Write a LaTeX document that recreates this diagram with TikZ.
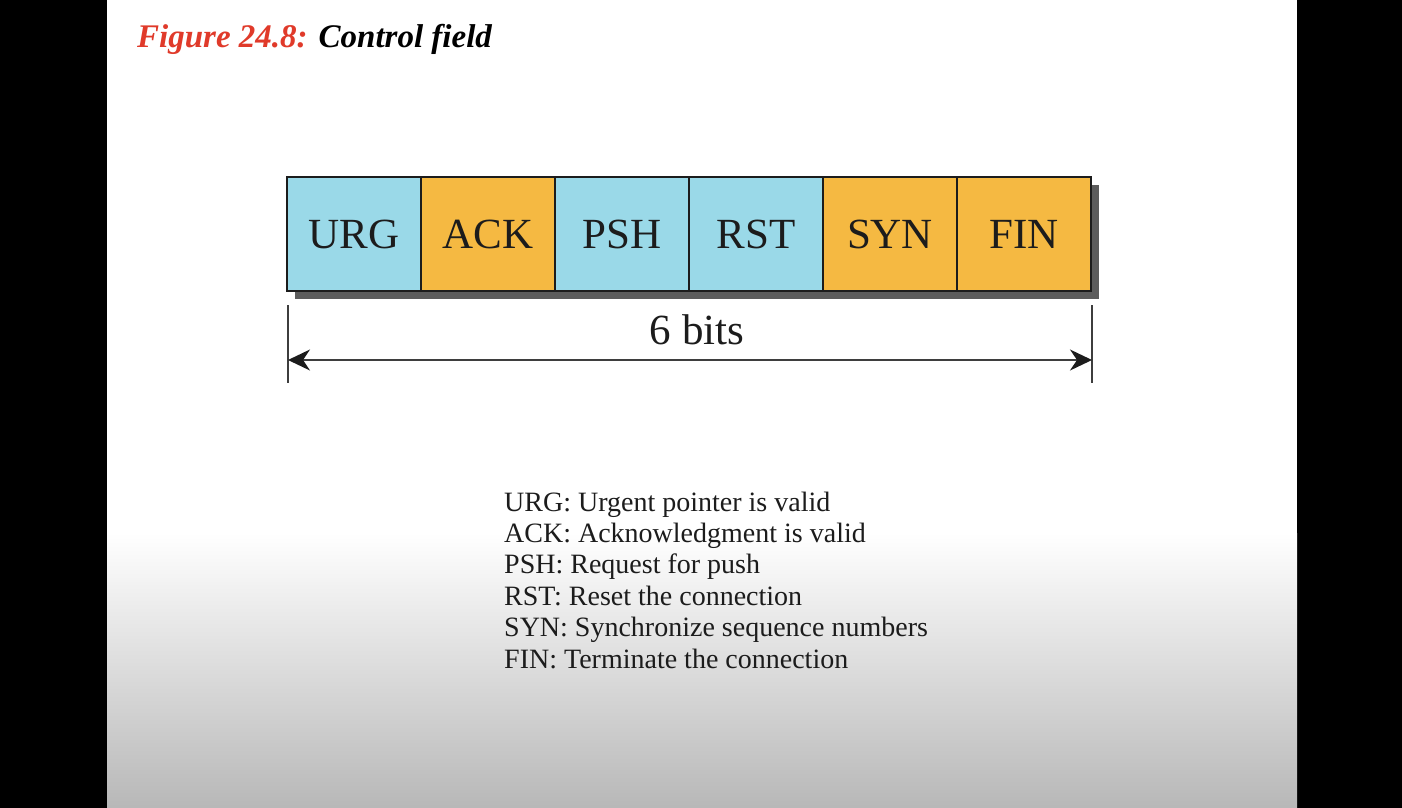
\documentclass[tikz,border=0pt]{standalone}
\usepackage{fontspec}
\setmainfont{Liberation Serif}
\usetikzlibrary{positioning}
\usetikzlibrary{arrows.meta}
\usetikzlibrary{backgrounds}
\definecolor{flagcyan}{HTML}{9AD9E8}
\definecolor{flagorange}{HTML}{F5B942}
\definecolor{shadowgray}{HTML}{5C5C5C}
\definecolor{titlered}{HTML}{E03A2A}
\definecolor{ink}{HTML}{1C1C1C}

\begin{document}
\begin{tikzpicture}[
  x=1pt, y=-1pt,
  cell/.style = {draw=ink, line width=1.6pt, minimum width=134pt,
    minimum height=114pt, inner sep=0pt, outer sep=0pt, text=ink,
    font=\fontsize{43}{43}\selectfont},
  cyancell/.style = {cell, fill=flagcyan},
  orangecell/.style = {cell, fill=flagorange},
  tick/.style = {line width=1.4pt, color=ink!85},
  legend/.style = {anchor=base west, inner sep=0pt, text=ink,
    font=\fontsize{28}{28}\selectfont},
  >={Stealth[length=22pt, width=21pt, inset=7pt, color=ink]},
]

  \useasboundingbox (0,0) rectangle (1402,808);

  % the row of flags
  \node[cyancell, anchor=north west] (urg) at (287,177) {URG};
  \node[orangecell, right=0pt of urg] (ack) {ACK};
  \node[cyancell, right=0pt of ack] (psh) {PSH};
  \node[cyancell, right=0pt of psh] (rst) {RST};
  \node[orangecell, right=0pt of rst] (syn) {SYN};
  \node[orangecell, right=0pt of syn] (fin) {FIN};

  % size of the field
  \coordinate (ltop) at ([shift={(1,14)}]urg.south west);
  \coordinate (lbot) at ([shift={(1,92)}]urg.south west);
  \coordinate (rtop) at ([shift={(1,14)}]fin.south east);
  \coordinate (rbot) at ([shift={(1,92)}]fin.south east);
  \coordinate (larr) at ([shift={(1,69)}]urg.south west);
  \coordinate (rarr) at ([shift={(1,69)}]fin.south east);

  \draw[tick] (ltop) -- (lbot);
  \draw[tick] (rtop) -- (rbot);
  \draw[tick,<->] (larr) -- (rarr) node[midway, above=14pt, xshift=7pt, text=ink,
    font=\fontsize{43}{43}\selectfont, inner sep=0pt] (size) {6 bits};

  % title
  \node[anchor=base west, inner sep=0pt, font=\fontsize{33}{33}\selectfont\bfseries\itshape]
    (title) at (137,48) {\textcolor{titlered}{Figure 24.8:} Control field};

  % legend
  \foreach \flag/\desc [count=\i] in {
      URG/Urgent pointer is valid,
      ACK/Acknowledgment is valid,
      PSH/Request for push,
      RST/Reset the connection,
      SYN/Synchronize sequence numbers,
      FIN/Terminate the connection}
    \node[legend] (leg\i) at (504,{511+31.4*(\i-1)}) {\flag: \desc};

  \begin{scope}[on background layer]
    \fill[black] (0,0) rectangle (1402,808);
    \fill[white] (107,0) rectangle (1297,808);
    \shade[top color=white, bottom color=black!28] (107,533) rectangle (1297,808);
    \fill[shadowgray] ([shift={(8,8)}]urg.north west) rectangle ([shift={(8,8)}]fin.south east);
  \end{scope}

\end{tikzpicture}
\end{document}
